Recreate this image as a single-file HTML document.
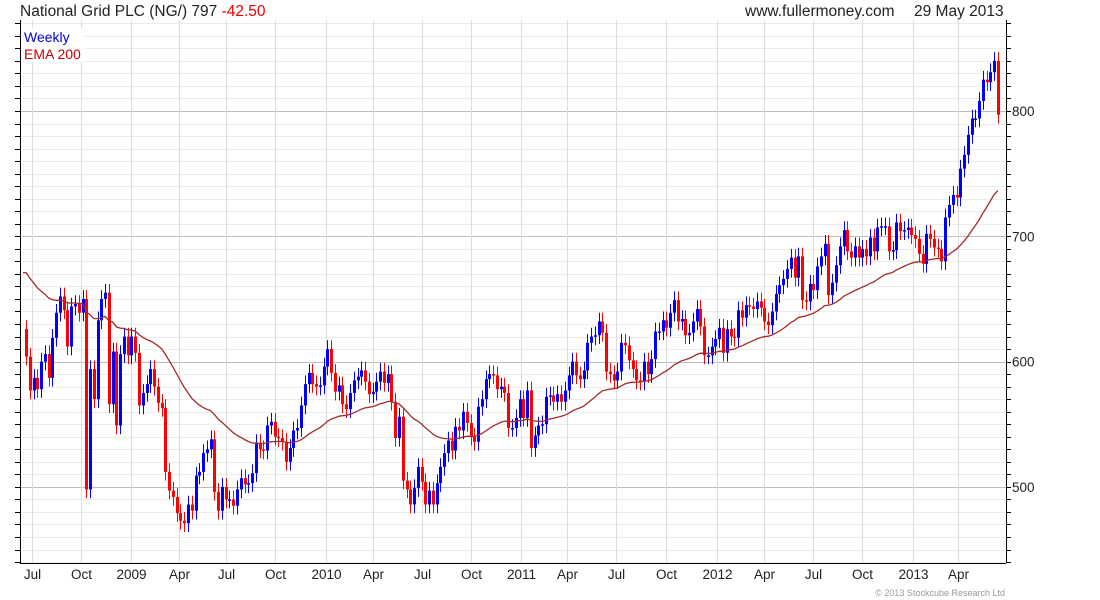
<!DOCTYPE html>
<html><head><meta charset="utf-8"><style>
body{margin:0;background:#fff;width:1100px;height:600px;overflow:hidden;font-family:"Liberation Sans",sans-serif}
svg{display:block}
</style></head><body>
<svg id="chart" width="1100" height="600">
<text x="20" y="16" font-size="15.5" fill="#222">National Grid PLC (NG/) 797 <tspan fill="#e00">-42.50</tspan></text>
<text x="745" y="16" font-size="15.5" fill="#222">www.fullermoney.com</text>
<text x="914" y="16" font-size="15.5" fill="#222">29 May 2013</text>
<g id="grid"></g><g id="marks"></g><g id="axes"></g>
<rect x="22" y="28" width="62" height="34" fill="#fff"/>
<text x="24" y="42" font-size="14" fill="#0000e0">Weekly</text>
<text x="24" y="59" font-size="14" fill="#c00">EMA 200</text>
<text x="1005" y="596" font-size="9" fill="#999" text-anchor="end">© 2013 Stockcube Research Ltd</text>
</svg>
<script>
const closes=[604,577,587,578,600,606,587,619,639,652,641,612,644,646,639,650,498,594,570,633,650,655,566,608,549,606,620,605,620,607,565,575,582,594,580,567,563,512,497,492,479,473,471,486,481,509,512,527,530,538,496,481,500,490,490,485,498,507,502,503,511,535,530,529,549,552,540,539,536,520,531,545,547,565,582,591,582,580,581,596,610,591,576,
581,566,562,575,585,588,593,584,574,576,584,592,583,590,568,539,556,505,498,486,499,516,504,486,497,486,503,516,527,537,529,548,545,560,551,540,536,564,570,586,590,589,578,580,575,547,547,555,570,555,577,531,541,549,550,572,573,568,574,568,577,589,600,589,586,593,615,620,621,632,623,592,590,585,592,615,613,601,594,585,584,600,590,602,624,624,633,
627,639,649,632,634,621,623,632,642,628,605,605,612,618,627,607,626,620,619,641,635,645,644,642,648,643,632,629,640,654,661,666,674,683,667,684,649,648,662,657,676,684,694,653,663,677,692,705,688,683,692,683,690,684,699,688,707,708,708,688,689,711,704,705,707,701,698,686,678,702,698,691,690,680,715,725,733,731,754,765,781,794,794,808,825,823,831,840,797];
const firstOpen=626;
const emaSeed=671;
const emaPeriod=42;
const yTicks=[500,600,700,800];
const xLabels=["Jul","Oct","2009","Apr","Jul","Oct","2010","Apr","Jul","Oct","2011","Apr","Jul","Oct","2012","Apr","Jul","Oct","2013","Apr"];
const xLabelWeeks=[1.5,14.5,28,40.5,53,66,79.5,92,105,118,131.5,143.5,156.5,170,183.5,196,209,222,235.5,247.5];

const L=20,R=1006,T=20,B=563;
const x0=26,x1=998;
function xs(i){return x0+i*(x1-x0)/(closes.length-1);}
function ys(p){return 111+(800-p)*1.253;}
const NS="http://www.w3.org/2000/svg";
function mk(tag,attrs,parent){const e=document.createElementNS(NS,tag);for(const k in attrs)e.setAttribute(k,attrs[k]);parent.appendChild(e);return e;}
const grid=document.getElementById('grid'),marks=document.getElementById('marks'),axes=document.getElementById('axes');
for(let p=440;p<=870;p+=10){const y=Math.round(ys(p))+0.5;if(y<T||y>B)continue;
 const major=p%100===0;
 const g=mk('line',{x1:L,x2:R,y1:y,y2:y,stroke:major?'#bdbdbd':'#ececec','stroke-width':1},grid);
 
 
 const t=mk('line',{x1:R,x2:R+5,y1:y,y2:y,stroke:'#000'},axes);
 
 
 const t2=mk('line',{x1:L-5,x2:L,y1:y,y2:y,stroke:'#000'},axes);
 
 
}
yTicks.forEach(v=>{const t=mk('text',{x:R+6,y:ys(v)+5,'font-size':13.5,fill:'#222'},axes);t.textContent=v;
 
 });
xLabels.forEach((lab,k)=>{const x=Math.round(xs(xLabelWeeks[k]))+0.5;
 const g=mk('line',{x1:x,x2:x,y1:T,y2:B,stroke:'#dcdcdc'},grid);
 
 
 const t=mk('text',{x:x,y:579,'font-size':13.5,fill:'#222','text-anchor':'middle'},axes);t.textContent=lab;
 
 });
const frameL=mk('line',{x1:L+0.5,x2:L+0.5,y1:T,y2:B,stroke:'#000'},axes);


const frameR=mk('line',{x1:R+0.5,x2:R+0.5,y1:T,y2:B,stroke:'#000'},axes);


const frameB=mk('line',{x1:L,x2:R,y1:B+0.5,y2:B+0.5,stroke:'#000'},axes);


closes.forEach((c,i)=>{
 const o=i===0?firstOpen:closes[i-1];
 const up=c>=o,col=up?'#0000ff':'#ff0000';
 const x=Math.round(xs(i));
 const hi=Math.max(o,c)+7,lo=Math.min(o,c)-7;
 const w=mk('line',{x1:x+0.5,x2:x+0.5,y1:ys(hi),y2:ys(lo),stroke:col,'stroke-width':1},marks);
 
 
 const yt=ys(Math.max(o,c)),yb=ys(Math.min(o,c));
 const b=mk('rect',{x:x-1,y:yt,width:3,height:Math.max(1.5,yb-yt),fill:col},marks);
 
 
});
let e=emaSeed;const a=2/(emaPeriod+1);let pts=[];
closes.forEach((c,i)=>{if(i>0)e=e+a*(c-e);pts.push(xs(i).toFixed(1)+','+ys(e).toFixed(1));});
pts.unshift((x0-3)+','+ys(emaSeed).toFixed(1));
const ln=mk('polyline',{points:pts.join(' '),fill:'none',stroke:'#a52a2a','stroke-width':1.3},marks);


</script>
</body></html>
